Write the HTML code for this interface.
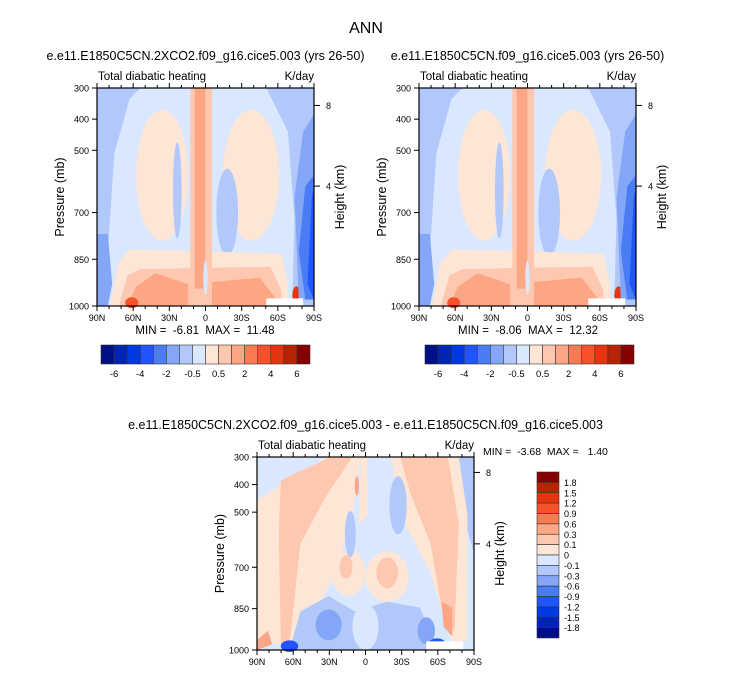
<!DOCTYPE html>
<html><head><meta charset="utf-8"><style>
body{margin:0;background:#fff;width:733px;height:673px;overflow:hidden;font-family:"Liberation Sans",sans-serif}
svg{position:absolute;left:0;top:0}
text{white-space:pre}
</style></head><body>
<svg id="chart" width="733" height="673" font-family="Liberation Sans, sans-serif"></svg>
<script>
const topColors=['#000f85','#0025b5','#0039e0','#1e55ff','#4a7cf5','#84a6f7','#b2c8fb','#d9e8fe','#fee6d6','#fec8b0','#fda685','#fb7a50','#f9522a','#e53510','#b82306','#870000'];
const topCbLabelsShown=['-6','-4','-2','-0.5','0.5','2','4','6'];
const diffLevels=['1.8','1.5','1.2','0.9','0.6','0.3','0.1','0','-0.1','-0.3','-0.6','-0.9','-1.2','-1.5','-1.8'];
const pTicks=[300,400,500,700,850,1000];
const latTicks=[90,60,30,0,-30,-60,-90];
const latLabels=['90N','60N','30N','0','30S','60S','90S'];
const hTicks=[8,4];
const hFrac=[0.08,0.45];
const panelMinMax=[['-6.81','11.48'],['-8.06','12.32'],['-3.68','1.40']];

const S=document.getElementById('chart');const NS='http://www.w3.org/2000/svg';
function el(t,a,p){const e=document.createElementNS(NS,t);for(const k in a)e.setAttribute(k,a[k]);(p||S).appendChild(e);return e}
function txt(x,y,s,size,anchor,p,name,rot){const e=el('text',{x:x,y:y,'font-size':size,'text-anchor':anchor||'start',fill:'#000'},p);if(rot)e.setAttribute('transform','rotate(-90 '+x+' '+y+')');e.textContent=s;

return e}
const C=topColors;
function poly(g,pts,fill){return el('polygon',{points:pts.map(p=>p[0]+','+p[1]).join(' '),fill:fill},g)}
function ell(g,cx,cy,rx,ry,fill){return el('ellipse',{cx:cx,cy:cy,rx:rx,ry:ry,fill:fill},g)}
function rect(g,x,y,w,h,fill){return el('rect',{x:x,y:y,width:w,height:h,fill:fill},g)}

function topField(g){
  rect(g,0,0,1,1,C[6]);
  poly(g,[[0.05,0.75],[0.08,0.3],[0.15,0.05],[0.2,0],[0.78,0],[0.88,0.2],[0.91,0.6],[0.9,0.97],[0.05,1]],C[7]);
  ell(g,0.3,0.4,0.12,0.3,C[8]);
  ell(g,0.71,0.4,0.13,0.3,C[8]);
  ell(g,0.6,0.57,0.05,0.2,C[6]);
  ell(g,0.37,0.47,0.02,0.22,C[6]);
  poly(g,[[0.06,1],[0.1,0.8],[0.15,0.74],[0.85,0.76],[0.88,0.9],[0.88,1]],C[8]);
  poly(g,[[0.1,1],[0.14,0.86],[0.2,0.83],[0.8,0.82],[0.85,0.93],[0.85,1]],C[9]);
  poly(g,[[0.14,1],[0.18,0.91],[0.27,0.85],[0.42,0.9],[0.42,1]],C[10]);
  poly(g,[[0.53,1],[0.53,0.89],[0.75,0.87],[0.82,0.96],[0.82,1]],C[10]);
  rect(g,0.43,0,0.1,1,C[9]);
  rect(g,0.45,0,0.05,0.92,C[10]);
  ell(g,0.5,0.87,0.01,0.08,C[7]);
  ell(g,0.16,0.985,0.03,0.025,C[12]);
  ell(g,0.92,0.95,0.02,0.04,C[13]);
  poly(g,[[0,0.67],[0.05,0.67],[0.07,0.9],[0.05,1],[0,1]],C[5]);
  poly(g,[[0.91,0.5],[0.95,0.2],[1,0.12],[1,0.97],[0.93,0.97]],C[5]);
  poly(g,[[0.93,0.75],[0.96,0.45],[1,0.4],[1,0.97],[0.96,0.97]],C[4]);
  poly(g,[[0.97,0.9],[0.99,0.5],[1,0.45],[1,0.97]],C[3]);
  rect(g,0.78,0.965,0.17,0.035,'#fff');
}
function diffField(g){
  rect(g,0,0,1,1,C[7]);
  poly(g,[[0.85,0],[1,0],[1,0.5],[0.95,0.3]],C[6]);
  poly(g,[[0,0.22],[0.32,0],[0.48,0],[0.44,0.3],[0.36,0.6],[0.28,0.78],[0.2,0.87],[0.16,0.97],[0.05,0.97],[0,0.95]],C[8]);
  poly(g,[[0.11,0.12],[0.34,0],[0.44,0],[0.32,0.2],[0.2,0.45],[0.15,0.97],[0.11,0.97],[0.1,0.4]],C[9]);
  poly(g,[[0.62,0],[0.93,0],[0.97,0.3],[0.97,0.95],[0.9,0.97],[0.8,0.6],[0.66,0.3]],C[8]);
  poly(g,[[0.66,0],[0.88,0],[0.93,0.35],[0.91,0.9],[0.85,0.78],[0.8,0.45],[0.71,0.2]],C[9]);
  poly(g,[[0.85,0.75],[0.9,0.78],[0.9,0.93],[0.86,0.88]],C[10]);
  ell(g,0.42,0.6,0.08,0.12,C[8]);ell(g,0.6,0.62,0.1,0.13,C[8]);
  ell(g,0.6,0.6,0.05,0.08,C[9]);ell(g,0.41,0.57,0.03,0.06,C[9]);
  poly(g,[[0.48,0],[0.51,0],[0.51,0.3],[0.47,0.35]],C[8]);
  ell(g,0.46,0.15,0.01,0.05,C[10]);
  ell(g,0.43,0.4,0.025,0.12,C[6]);ell(g,0.65,0.25,0.04,0.15,C[6]);
  poly(g,[[0.15,1],[0.2,0.8],[0.33,0.72],[0.45,0.8],[0.6,0.75],[0.75,0.78],[0.82,0.95],[0.82,1]],C[6]);
  ell(g,0.33,0.87,0.06,0.08,C[5]);ell(g,0.78,0.9,0.04,0.07,C[5]);
  ell(g,0.15,0.98,0.04,0.03,C[3]);ell(g,0.83,0.97,0.04,0.03,C[3]);
  ell(g,0.5,0.88,0.06,0.12,C[7]);
  poly(g,[[0,0.95],[0.05,0.9],[0.07,0.97],[0,1]],C[10]);
  rect(g,0.78,0.955,0.17,0.045,'#fff');
}
function panel(x0,y0,w,h,field,title,idx){
  const g=el('g',{});
  
  
  const f=el('g',{transform:`translate(${x0},${y0}) scale(${w},${h})`},g);
  field(f);
  el('rect',{x:x0,y:y0,width:w,height:h,fill:'none',stroke:'#000','stroke-width':1.2},g);
  const py=p=>y0+(p-300)/700*h;
  const lx=l=>x0+(90-l)/180*w;
  pTicks.forEach(p=>{el('line',{x1:x0-5,x2:x0,y1:py(p),y2:py(p),stroke:'#000'},g);txt(x0-8,py(p)+3.5,String(p),9,'end',g,'pressure-tick-label')});
  for(let l=90;l>=-90;l-=10){const L=l%30===0?5:3;
    el('line',{x1:lx(l),x2:lx(l),y1:y0+h,y2:y0+h+L,stroke:'#000'},g);el('line',{x1:lx(l),x2:lx(l),y1:y0,y2:y0-L,stroke:'#000'},g);}
  latTicks.forEach((l,i)=>txt(lx(l),y0+h+15,latLabels[i],9,'middle',g,'latitude-tick-label'));
  hTicks.forEach((t,i)=>{const y=y0+hFrac[i]*h;el('line',{x1:x0+w,x2:x0+w+6,y1:y,y2:y,stroke:'#000'},g);txt(x0+w+12,y+3.5,String(t),9,'start',g,'height-tick-label')});
  txt(x0-33,y0+h/2,'Pressure (mb)',12.5,'middle',g,'y-axis-title',true);
  txt(x0+w+30,y0+h/2,'Height (km)',12.5,'middle',g,'right-axis-title',true);
  txt(x0+1,y0-8,'Total diabatic heating',11.5,'start',g,'variable-label');
  txt(x0+w,y0-8,'K/day',11.5,'end',g,'units-label');
  txt(x0+w/2,y0-28,title,12.5,'middle',g,'panel-title');
  return g;
}
txt(366,33,'ANN',16,'middle',S,'figure-title');
panel(97,88,217,218,topField,'e.e11.E1850C5CN.2XCO2.f09_g16.cice5.003 (yrs 26-50)',1);
panel(419,88,217,218,topField,'e.e11.E1850C5CN.f09_g16.cice5.003 (yrs 26-50)',2);
panel(257,457,217,193,diffField,'e.e11.E1850C5CN.2XCO2.f09_g16.cice5.003 - e.e11.E1850C5CN.f09_g16.cice5.003',3);
[[205,0],[528,1]].forEach(([cx,i])=>txt(cx,334,'MIN =  '+panelMinMax[i][0]+'  MAX =  '+panelMinMax[i][1],11.5,'middle',S,'min-max-label'));
txt(483,455,'MIN =  '+panelMinMax[2][0]+'  MAX =   '+panelMinMax[2][1],10.5,'start',S,'min-max-label');
function hbar(x0){const g=el('g',{});
  
  
  const bw=209/16;
  topColors.forEach((c,i)=>el('rect',{x:x0+i*bw,y:345,width:bw,height:19,fill:c,stroke:'#333','stroke-width':0.6},g));
  topCbLabelsShown.forEach((s,i)=>txt(x0+(1+2*i)*bw,377,s,9.5,'middle',g,'colorbar-label'));
}
hbar(101);hbar(425);
(function(){const g=el('g',{});
  
  
  const bh=166/16,x0=537;
  topColors.slice().reverse().forEach((c,i)=>el('rect',{x:x0,y:472+i*bh,width:22,height:bh,fill:c,stroke:'#333','stroke-width':0.6},g));
  diffLevels.forEach((s,i)=>txt(x0+27,472+(i+1)*bh+3.5,s,9,'start',g,'colorbar-label'));
})();
</script>
</body></html>
